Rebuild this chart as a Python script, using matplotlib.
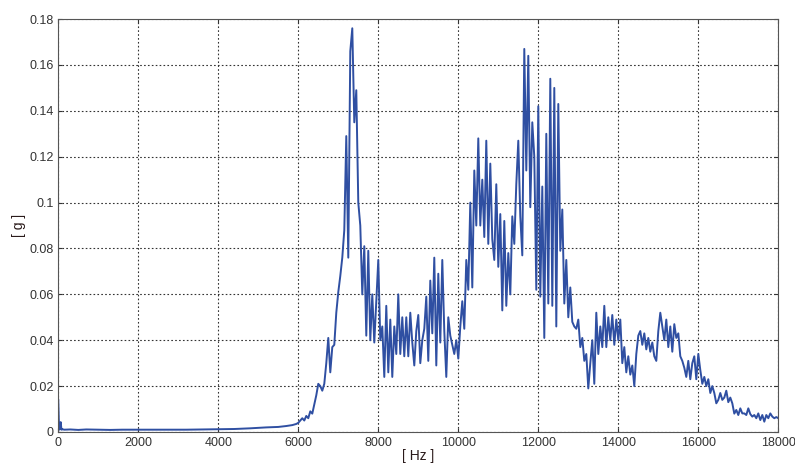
import numpy as np
import matplotlib.pyplot as plt

plt.rcParams['font.family'] = ['Liberation Sans', 'DejaVu Sans']

# low-frequency part of the spectrum (nearly flat)
low_hz = [0, 20, 40, 60, 80, 100, 150, 300, 500, 700, 1000, 1300, 1600,
          2000, 2400, 2800, 3200, 3600, 4000, 4400, 4800, 5200, 5500, 5700,
          5850, 5950]
low_g = [0.014, 0.001, 0.0012, 0.0043, 0.001, 0.0012, 0.001, 0.0011,
         0.0009, 0.0011, 0.001, 0.0009, 0.001, 0.001, 0.001, 0.001, 0.001,
         0.0011, 0.0012, 0.0013, 0.0016, 0.002, 0.0022, 0.0026, 0.003,
         0.0035]

# 6000 - 18000 Hz, 50 Hz bins
band_hz = np.arange(6000, 18001, 50)
band_g = [
    0.004, 0.005, 0.006, 0.005, 0.007, 0.006, 0.009, 0.008, 0.012, 0.016,
    0.021, 0.020, 0.018, 0.021, 0.030, 0.041, 0.026, 0.037, 0.038, 0.052,
    0.061, 0.068, 0.076, 0.088, 0.129, 0.076, 0.166, 0.176, 0.135, 0.149,
    0.100, 0.090, 0.060, 0.081, 0.042, 0.079, 0.040, 0.060, 0.039, 0.057,
    0.075, 0.040, 0.046, 0.024, 0.055, 0.026, 0.049, 0.024, 0.046, 0.034,
    0.060, 0.034, 0.050, 0.033, 0.050, 0.033, 0.052, 0.039, 0.029, 0.044,
    0.051, 0.030, 0.040, 0.045, 0.059, 0.031, 0.066, 0.043, 0.076, 0.029,
    0.069, 0.039, 0.075, 0.044, 0.024, 0.050, 0.042, 0.038, 0.034, 0.040,
    0.032, 0.046, 0.057, 0.045, 0.075, 0.062, 0.100, 0.063, 0.114, 0.090,
    0.128, 0.090, 0.110, 0.085, 0.127, 0.082, 0.117, 0.084, 0.075, 0.108,
    0.072, 0.095, 0.053, 0.092, 0.055, 0.078, 0.060, 0.094, 0.082, 0.108,
    0.127, 0.094, 0.077, 0.167, 0.114, 0.164, 0.098, 0.135, 0.120, 0.062,
    0.142, 0.059, 0.107, 0.041, 0.130, 0.056, 0.154, 0.055, 0.150, 0.046,
    0.143, 0.079, 0.097, 0.056, 0.075, 0.050, 0.063, 0.048, 0.046, 0.045,
    0.049, 0.037, 0.041, 0.031, 0.034, 0.019, 0.030, 0.040, 0.021, 0.052,
    0.034, 0.046, 0.037, 0.055, 0.037, 0.050, 0.040, 0.051, 0.038, 0.049,
    0.040, 0.049, 0.030, 0.037, 0.026, 0.033, 0.025, 0.029, 0.020, 0.034,
    0.042, 0.044, 0.038, 0.043, 0.036, 0.041, 0.035, 0.039, 0.033, 0.031,
    0.044, 0.052, 0.046, 0.040, 0.049, 0.037, 0.046, 0.035, 0.047, 0.041,
    0.043, 0.033, 0.031, 0.028, 0.024, 0.031, 0.023, 0.030, 0.033, 0.023,
    0.034, 0.027, 0.021, 0.024, 0.020, 0.023, 0.017, 0.020, 0.017, 0.0125,
    0.014, 0.017, 0.014, 0.015, 0.018, 0.013, 0.015, 0.0125, 0.008, 0.0096,
    0.0074, 0.0103, 0.0081, 0.0081, 0.0074, 0.0103, 0.0078, 0.0067, 0.0074, 0.006,
    0.0081, 0.0052, 0.0074, 0.0045, 0.0074, 0.006, 0.0081, 0.0067, 0.006, 0.0065,
    0.006,
]

freq = np.concatenate([low_hz, band_hz])
amp = np.concatenate([low_g, band_g])

x_ticks = np.arange(0, 18001, 2000)
y_ticks = np.arange(0, 0.181, 0.02)

fig = plt.figure(figsize=(7.95, 4.66), dpi=100)
ax = fig.add_axes([0.0733, 0.073, 0.9057, 0.886])

ax.plot(freq, amp, color="#2f4fa2", lw=1.4)

ax.set_xlim(0, 18000)
ax.set_ylim(0, 0.18)
ax.set_xticks(x_ticks)
ax.set_yticks(y_ticks)
ax.set_yticklabels(["0", "0.02", "0.04", "0.06", "0.08", "0.1", "0.12",
                    "0.14", "0.16", "0.18"])
ax.grid(True, color="#333333", linestyle=(0, (1.5, 2)), lw=0.8)
ax.tick_params(direction="in", length=3, labelsize=9, colors="#333333",
               top=True, right=True)
for s in ax.spines.values():
    s.set_color("#555555")
    s.set_linewidth(0.8)

ax.set_xlabel("[ Hz ]", fontsize=10, color="#2a1a1a", labelpad=0)
ax.set_ylabel("[ g ]", fontsize=10, color="#2a1a1a", labelpad=2)

fig.savefig("out.png", dpi=100)
